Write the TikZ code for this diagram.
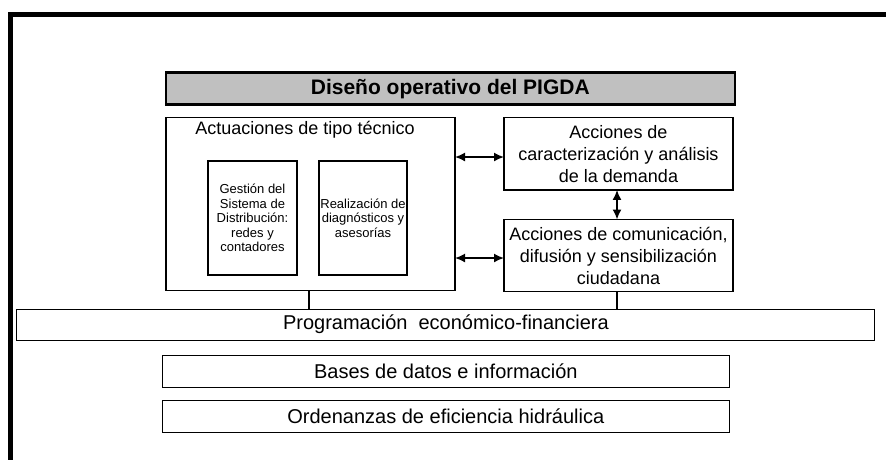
\documentclass[tikz,border=0pt]{standalone}
\usepackage{fontspec}
\setmainfont{Liberation Sans}
\usetikzlibrary{arrows.meta,calc}
\definecolor{titlegray}{HTML}{C0C0C0}
\begin{document}
\begin{tikzpicture}[x=1pt,y=-1pt,
  box/.style={draw=black,line width=1.1pt,inner sep=0pt,outer sep=0pt,align=center},
  bigtxt/.style={font=\fontsize{20}{24}\selectfont},
  midtxt/.style={font=\fontsize{18}{22}\selectfont},
  smalltxt/.style={font=\fontsize{13}{14.5}\selectfont},
  link/.style={line width=1.6pt},
  biarrow/.style={line width=1.6pt,{Latex[length=10pt,width=9pt]}-{Latex[length=10pt,width=9pt]}}
]
\useasboundingbox (0,0) rectangle (886,459);
% outer frame (top and left edges)
\draw[line width=4.5pt] (10.5,470) -- (10.5,14.5) -- (900,14.5);

\node[box,fill=titlegray,line width=2.4pt,minimum width=569pt,minimum height=32pt,
      font=\bfseries\fontsize{21}{24}\selectfont] (title) at (450.3,88.6) {Diseño operativo del PIGDA};

\node[box,minimum width=289pt,minimum height=173.5pt] (act) at (310.5,203.8) {};
\node[midtxt,anchor=center] (acttxt) at (305,130) {Actuaciones de tipo técnico};

\node[box,smalltxt,minimum width=89pt,minimum height=114pt] (gest) at (252.5,218)
  {Gestión del\\Sistema de\\Distribución:\\redes y\\contadores};
\node[box,smalltxt,minimum width=88pt,minimum height=114pt] (real) at (363,218)
  {Realización de\\diagnósticos y\\asesorías};

\node[box,midtxt,minimum width=229pt,minimum height=72.5pt] (carac) at (618.5,153.7)
  {Acciones de\\caracterización y análisis\\de la demanda};
\node[box,midtxt,minimum width=229pt,minimum height=72pt] (comun) at (618.5,255.5)
  {Acciones de comunicación,\\difusión y sensibilización\\ciudadana};

\node[box,bigtxt,minimum width=858pt,minimum height=30.7pt] (prog) at (445.9,324.7)
  {Programación\ \ económico-financiera};
\node[box,bigtxt,minimum width=567pt,minimum height=32pt] (bases) at (445.8,371.3)
  {Bases de datos e información};
\node[box,bigtxt,minimum width=567pt,minimum height=32pt] (orden) at (445.8,416.2)
  {Ordenanzas de eficiencia hidráulica};

% connectors
\draw[biarrow] ([yshift=-3.3pt]act.east |- carac.west) -- ([yshift=-3.3pt]carac.west);
\draw[biarrow] ([yshift=-2.5pt]act.east |- comun.west) -- ([yshift=-2.5pt]comun.west);
\draw[biarrow] ([xshift=-1.5pt]carac.south) -- ([xshift=-1.5pt]comun.north);
\draw[link] ([xshift=-1.5pt]act.south) -- ([xshift=-1.5pt]act.south |- prog.north);
\draw[link] ([xshift=-1.5pt]comun.south) -- ([xshift=-1.5pt]comun.south |- prog.north);
\end{tikzpicture}
\end{document}
